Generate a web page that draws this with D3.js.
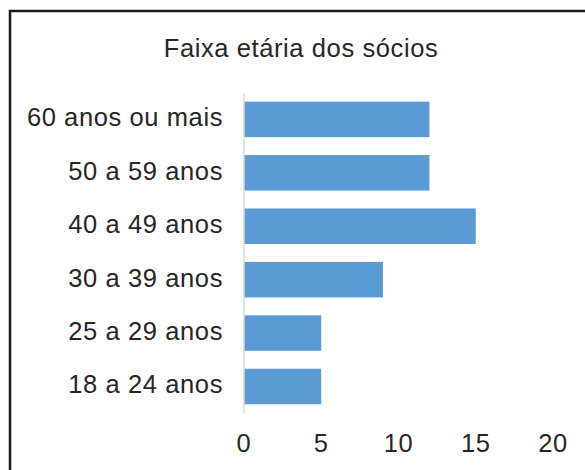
<!DOCTYPE html>
<html>
<head>
<meta charset="utf-8">
<script src="https://cdn.jsdelivr.net/npm/d3@7"></script>
<style>
  body { margin: 0; background: #fff; }
  text { font-family: "Liberation Sans", Arial, sans-serif; fill: #262626; }
</style>
</head>
<body>
<svg width="585" height="470"></svg>
<script>
var categories = ['60 anos ou mais', '50 a 59 anos', '40 a 49 anos', '30 a 39 anos', '25 a 29 anos', '18 a 24 anos'];
var values = [12, 12, 15, 9, 5, 5];
var ticks = [0, 5, 10, 15, 20];
var title = 'Faixa etária dos sócios';

var svg = d3.select('svg');

// chart frame (right and bottom edges fall outside the picture)
svg.append('rect')
    .attr('x', 10).attr('y', 11)
    .attr('width', 600).attr('height', 500)
    .attr('fill', 'none').attr('stroke', '#1a1a1a').attr('stroke-width', 2.5);

svg.append('text')
    .attr('x', 301).attr('y', 57)
    .attr('text-anchor', 'middle')
    .style('font-size', '25.5px')
    .style('letter-spacing', '0.6px')
    .text(title);

var x = d3.scaleLinear().domain([0, 20]).range([244, 553]);
var y = d3.scaleBand().domain(categories).range([92.7, 413.2])
    .paddingInner(0.335).paddingOuter(0.1675);

// bars
svg.append('g').selectAll('rect')
    .data(values)
    .enter().append('rect')
    .attr('x', x(0))
    .attr('y', function (d, i) { return y(categories[i]); })
    .attr('width', function (d) { return x(d) - x(0); })
    .attr('height', y.bandwidth())
    .attr('fill', '#5b9bd5');

// category axis line
svg.append('line')
    .attr('x1', x(0)).attr('x2', x(0))
    .attr('y1', y.range()[0]).attr('y2', y.range()[1])
    .attr('stroke', '#d9d9d9').attr('stroke-width', 1.5);

// category labels
svg.append('g').selectAll('text')
    .data(categories)
    .enter().append('text')
    .attr('x', 223)
    .attr('y', function (d) { return y(d) + y.bandwidth() / 2 + 7; })
    .attr('text-anchor', 'end')
    .style('font-size', '25.5px')
    .style('letter-spacing', '0.6px')
    .text(function (d) { return d; });

// value ticks
svg.append('g').selectAll('text')
    .data(ticks)
    .enter().append('text')
    .attr('x', function (d) { return x(d); })
    .attr('y', 452)
    .attr('text-anchor', 'middle')
    .style('font-size', '25.5px')
    .style('letter-spacing', '0.6px')
    .text(function (d) { return d; });
</script>
</body>
</html>
